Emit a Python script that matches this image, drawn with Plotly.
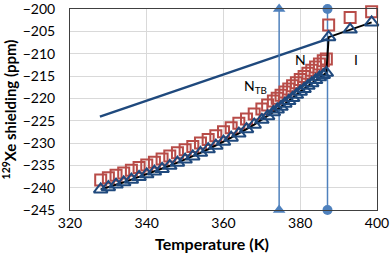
import plotly.graph_objects as go

# Temperatures (K)
temps = [328, 330, 332, 334, 336, 338, 340, 342, 344, 346, 348, 350, 352, 354, 356,
         358, 360, 362, 364, 366, 368, 370, 371.5, 373, 374, 375, 376, 377, 378, 379,
         380, 381, 382, 383, 384, 385, 386, 386.8, 387.4, 393, 398.6]

# Series with triangles (joined by black line)
tri_vals = [-240.4, -239.9, -239.3, -238.8, -238.2, -237.6, -237.0, -236.4, -235.8, -235.1,
            -234.4, -233.7, -233.0, -232.2, -231.4, -230.6, -229.7, -228.8, -227.9, -226.9,
            -225.9, -224.8, -224.0, -223.1, -222.5, -221.9, -221.2, -220.6, -219.9, -219.2,
            -218.5, -217.9, -217.2, -216.6, -215.9, -215.3, -214.8, -214.3, -206.3, -204.6, -203.0]

# Series with squares
sq_vals = [-238.3, -237.8, -237.2, -236.7, -236.1, -235.5, -234.9, -234.3, -233.6, -232.9,
           -232.2, -231.5, -230.8, -230.0, -229.2, -228.4, -227.5, -226.6, -225.6, -224.6,
           -223.5, -222.4, -221.5, -220.6, -220.0, -219.3, -218.6, -217.9, -217.2, -216.5,
           -215.8, -215.1, -214.4, -213.7, -213.0, -212.3, -211.6, -211.2, -203.6, -201.9, -200.6]

# Straight line (isotropic extrapolation)
line_T = [327.8, 387.2]
line_vals = [-224.1, -206.7]

# Phase transition markers
t_ntb = 374.5
t_ni = 387.1
y_span = [-245, -200]

x_title = "<b>Temperature (K)</b>"
y_title = "<b><sup>129</sup>Xe shielding (ppm)</b>"

blue_dark = "#1F497D"
red = "#B84C48"
blue_light = "#4F81BD"

fig = go.Figure()

fig.add_trace(go.Scatter(
    x=line_T, y=line_vals, mode="lines",
    line=dict(color=blue_dark, width=2.5), showlegend=False))

fig.add_trace(go.Scatter(
    x=[t_ntb, t_ntb], y=y_span, mode="lines+markers",
    line=dict(color=blue_light, width=1.5),
    marker=dict(symbol="triangle-up", size=11, color=blue_light),
    cliponaxis=False, showlegend=False))

fig.add_trace(go.Scatter(
    x=[t_ni, t_ni], y=y_span, mode="lines+markers",
    line=dict(color=blue_light, width=1.5),
    marker=dict(symbol="circle", size=10, color=blue_light),
    cliponaxis=False, showlegend=False))

fig.add_trace(go.Scatter(
    x=temps, y=sq_vals, mode="markers",
    marker=dict(symbol="square-open", size=11, color=red, line=dict(width=2)),
    cliponaxis=False, showlegend=False))

fig.add_trace(go.Scatter(
    x=temps, y=tri_vals, mode="lines+markers",
    line=dict(color="black", width=2),
    marker=dict(symbol="triangle-up-open", size=12, color=blue_dark, line=dict(width=2)),
    cliponaxis=False, showlegend=False))

font_family = "Lato, Open Sans, sans-serif"

fig.add_annotation(x=368.3, y=-217.3, text="N<sub>TB</sub>", showarrow=False,
                   font=dict(size=14, color="black", family=font_family))
fig.add_annotation(x=380, y=-211.4, text="N", showarrow=False,
                   font=dict(size=14, color="black", family=font_family))
fig.add_annotation(x=394.5, y=-211.4, text="I", showarrow=False,
                   font=dict(size=14, color="black", family=font_family))

# x-axis title placed as in the reference (slightly left of centre)
fig.add_annotation(xref="paper", yref="paper", x=0.4625, y=-0.165,
                   xanchor="center", yanchor="middle", text=x_title, showarrow=False,
                   font=dict(size=16, color="black", family=font_family))

fig.update_layout(
    width=390, height=255,
    margin=dict(l=70, r=13, t=9, b=45),
    paper_bgcolor="white", plot_bgcolor="white",
    font=dict(family=font_family, size=14, color="black"),
)
fig.update_xaxes(
    range=[320, 400], dtick=20, tick0=320, automargin=False,
    showgrid=True, gridcolor="#D9D9D9", gridwidth=1,
    showline=True, linecolor="#404040", linewidth=1, mirror=True,
    zeroline=False, ticks="", tickfont=dict(size=14), ticklabeloverflow="allow",
)
fig.update_yaxes(
    range=[-245, -200], dtick=5, automargin=False,
    showgrid=True, gridcolor="#D9D9D9", gridwidth=1,
    showline=True, linecolor="#404040", linewidth=1, mirror=True,
    zeroline=False, ticks="", ticklabelstandoff=11, tickfont=dict(size=14),
    ticklabeloverflow="allow",
    title=dict(text=y_title, standoff=5, font=dict(size=15)),
)

fig.write_html("out.html", config={"displayModeBar": False},
               post_script="document.body.style.margin='0';")
